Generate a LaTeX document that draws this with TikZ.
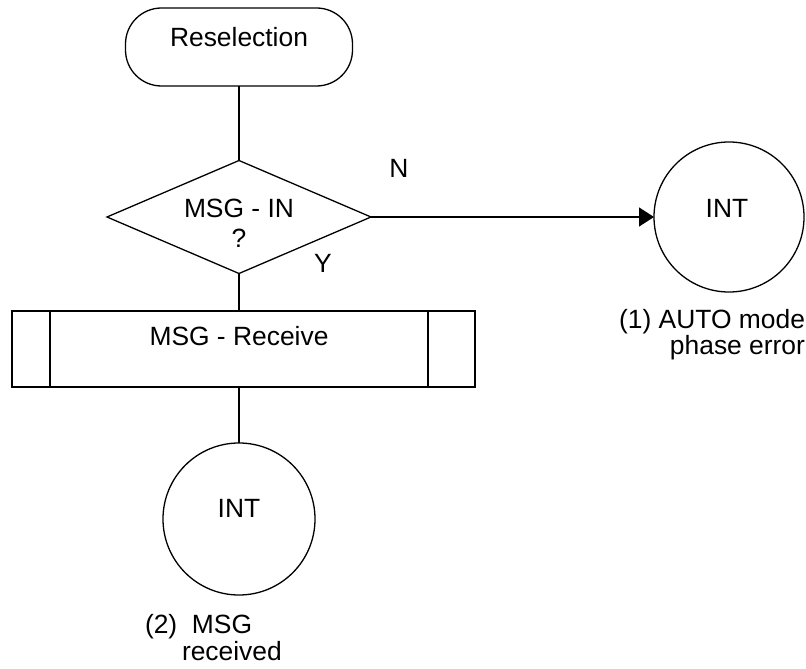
\documentclass[tikz,border=0pt]{standalone}
\usepackage{fontspec}
\setmainfont{Liberation Sans}
\usetikzlibrary{shapes.geometric,arrows.meta}
\begin{document}
\begin{tikzpicture}[x=1bp,y=-1bp,
  every node/.style={inner sep=0pt,outer sep=0pt},
  lbl/.style={font=\fontsize{26.5}{28}\selectfont},
  shp/.style={draw,line width=1.3bp},
  conn/.style={line width=1.3bp},
  arr/.style={line width=1.3bp,-{Triangle[length=15bp,width=19bp]}}]
\useasboundingbox (0,0) rectangle (806,669);
% shapes
\node[shp,rectangle,rounded corners=36bp,minimum width=227bp,minimum height=78bp] (start) at (239,47) {};
\node[shp,diamond,minimum width=264bp,minimum height=113bp] (dec) at (239,217) {};
\node[shp,rectangle,minimum width=463bp,minimum height=76bp] (proc) at (243.5,349) {};
\node[shp,circle,minimum size=150bp] (int1) at (729,217) {};
\node[shp,circle,minimum size=152bp] (int2) at (239,519) {};
% inner bars of predefined process
\draw[conn] ([xshift=38bp]proc.north west) -- ([xshift=38bp]proc.south west);
\draw[conn] ([xshift=-47bp]proc.north east) -- ([xshift=-47bp]proc.south east);
% texts
\node[lbl,anchor=base] (tstart) at (239,47) {Reselection};
\node[lbl,anchor=base] (tdec1) at (239,217) {MSG - IN};
\node[lbl,anchor=base] (tdec2) at (239,247) {?};
\node[lbl,anchor=base] (tproc) at (239,345) {MSG - Receive};
\node[lbl,anchor=base] (tint1) at (727,217) {INT};
\node[lbl,anchor=base] (tint2) at (239,517) {INT};
\node[lbl,anchor=base] (tn) at (399,177) {N};
\node[lbl,anchor=base] (ty) at (323,272) {Y};
\node[lbl,anchor=base east] (c1a) at (805,328) {(1) AUTO mode};
\node[lbl,anchor=base east] (c1b) at (805,354) {phase error};
\node[lbl,anchor=base west] (c2a) at (145,633) {(2)\ \ MSG};
\node[lbl,anchor=base west] (c2b) at (182,660) {received};
% connectors
\draw[conn] (start.south) -- (dec.north);
\draw[arr] (dec.east) -- (int1.west);
\draw[conn] (dec.south) -- (dec.south |- proc.north);
\draw[conn] (int2.north |- proc.south) -- (int2.north);
\end{tikzpicture}
\end{document}
